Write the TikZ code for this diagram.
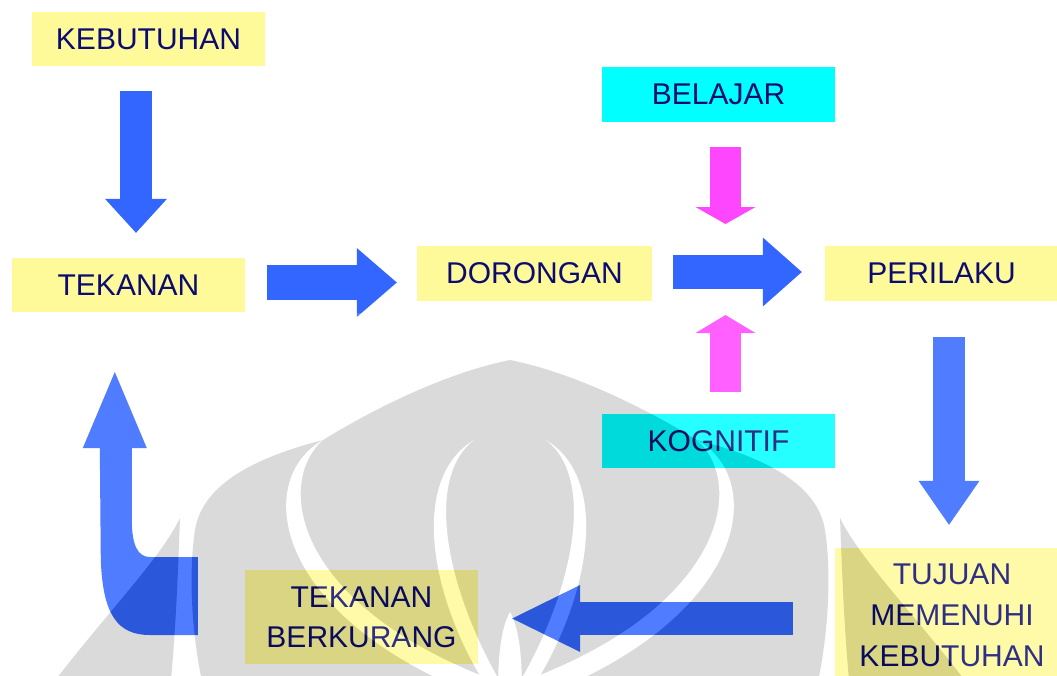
\documentclass[tikz,border=0pt]{standalone}
\usepackage{fontspec}
\setmainfont{Liberation Sans}
\usetikzlibrary{arrows.meta,calc}

\definecolor{boxyellow}{RGB}{255,250,153}
\definecolor{boxcyan}{RGB}{0,255,255}
\definecolor{flowblue}{RGB}{51,102,255}
\definecolor{infopink}{RGB}{255,70,255}
\definecolor{labelnavy}{RGB}{12,12,112}

\tikzset{
  label box/.style={rectangle, inner sep=0pt, minimum width=233pt, minimum height=54pt,
    text=labelnavy, font=\fontsize{30}{41}\selectfont, align=center},
  need/.style={label box, fill=boxyellow},
  factor/.style={label box, fill=boxcyan},
  flow/.style n args={3}{line width=#1pt, line cap=butt,
    -{Triangle[length=#2pt, width=#3pt, line width=0pt]}},
}

\begin{document}
\begin{tikzpicture}[x=1pt, y=-1pt]
\useasboundingbox (0,0) rectangle (1057,675);
\clip (0,0) rectangle (1057,675);

% boxes
\node[need]   (keb) at (148.5,39)  {KEBUTUHAN};
\node[need]   (tek) at (128.5,285) {TEKANAN};
\node[need, minimum width=235pt, minimum height=55pt] (dor) at (534.5,273.5) {DORONGAN};
\node[need, minimum height=55pt] (per) at (941.5,273.5) {PERILAKU};
\node[factor, minimum height=55pt] (bel) at (718.5,94.5) {BELAJAR};
\node[factor] (kog) at (718.5,441) {KOGNITIF};
\node[need, minimum width=234pt, minimum height=135pt] (tuj) at (952,615.5)
  {TUJUAN\\MEMENUHI\\KEBUTUHAN};
\node[need, minimum height=94pt, font=\fontsize{30}{40}\selectfont] (tb) at (361.5,617)
  {TEKANAN\\BERKURANG};

% where the side influences meet the main flow
\coordinate (mixtop) at (725.5,224);
\coordinate (mixbot) at (725.5,315);

% block arrows of the main cycle
\draw[flow={32}{34}{62}, flowblue]
  ([xshift=-12.5pt,yshift=-25pt]keb.south) -- ([xshift=7.5pt,yshift=25pt]tek.north);
\draw[flow={35}{40}{69}, flowblue]
  ([xshift=22pt,yshift=2.5pt]tek.east) -- ([xshift=-20pt,yshift=-9pt]dor.west);
\draw[flow={34}{39}{69}, flowblue]
  ([xshift=21pt,yshift=1.5pt]dor.east) -- ([xshift=-23pt,yshift=1.5pt]per.west);
\draw[flow={32}{44}{61}, flowblue]
  ([xshift=7.5pt,yshift=-36pt]per.south) -- ([xshift=-3pt,yshift=23pt]tuj.north);
\draw[flow={33}{68}{67}, flowblue]
  ([xshift=-42pt,yshift=-3pt]tuj.west) -- ([xshift=34pt,yshift=-1.5pt]tb.east);

% side influences
\draw[flow={31}{17}{60}, infopink] ([xshift=7pt,yshift=-25pt]bel.south) -- (mixtop);
\draw[flow={31}{18}{60}, infopink] ([xshift=7pt,yshift=22pt]kog.north) -- (mixbot);

% bent return arrow back up to TEKANAN
\coordinate (loop) at ([xshift=-47pt,yshift=21pt]tb.west);
\fill[flowblue, shift={(loop)}]
  (0,-39) -- (-48,-39) .. controls (-60,-39) and (-66,-51) .. (-66,-76)
  -- (-66,-148) -- (-51,-148) -- (-83,-224) -- (-115,-148) -- (-98,-148)
  -- (-97,-36) .. controls (-95,19) and (-80,39) .. (-48,39) -- (0,39) -- cycle;

% faint emblem veil over the lower half
\begin{scope}[transparency group, opacity=0.147]
  \fill[white] (0,313) rectangle (1057,690);
  \fill[black]
    (510,360) .. controls (570,372) and (640,405) .. (697,440)
    .. controls (755,455) and (817,480) .. (825,530)
    .. controls (832,575) and (828,640) .. (816,690)
    -- (204,690)
    .. controls (192,640) and (188,575) .. (195,530)
    .. controls (203,480) and (265,455) .. (323,440)
    .. controls (380,405) and (450,372) .. (510,360) -- cycle;
  \fill[black] (180,518) .. controls (178,570) and (176,630) .. (170,690)
    -- (48,690) .. controls (100,620) and (160,560) .. (180,518) -- cycle;
  \fill[black] (840,518) .. controls (842,570) and (844,630) .. (850,690)
    -- (972,690) .. controls (920,620) and (860,560) .. (840,518) -- cycle;
  % tapered white crescents inside the emblem
  \fill[white] (697,440) .. controls (765,478) and (752,612) .. (545,695)
    -- (522,682) .. controls (728,606) and (745,482) .. (697,440) -- cycle;
  \fill[white] (323,440) .. controls (255,478) and (268,612) .. (475,695)
    -- (498,682) .. controls (292,606) and (275,482) .. (323,440) -- cycle;
  \fill[white] (546,440) .. controls (612,480) and (590,602) .. (528,695)
    -- (512,695) .. controls (572,598) and (598,480) .. (546,440) -- cycle;
  \fill[white] (474,440) .. controls (408,480) and (430,602) .. (492,695)
    -- (508,695) .. controls (448,598) and (422,480) .. (474,440) -- cycle;
  \fill[white] (510,612) .. controls (520,630) and (522,660) .. (522,695)
    -- (498,695) .. controls (498,660) and (500,630) .. (510,612) -- cycle;
\end{scope}
\end{tikzpicture}
\end{document}
